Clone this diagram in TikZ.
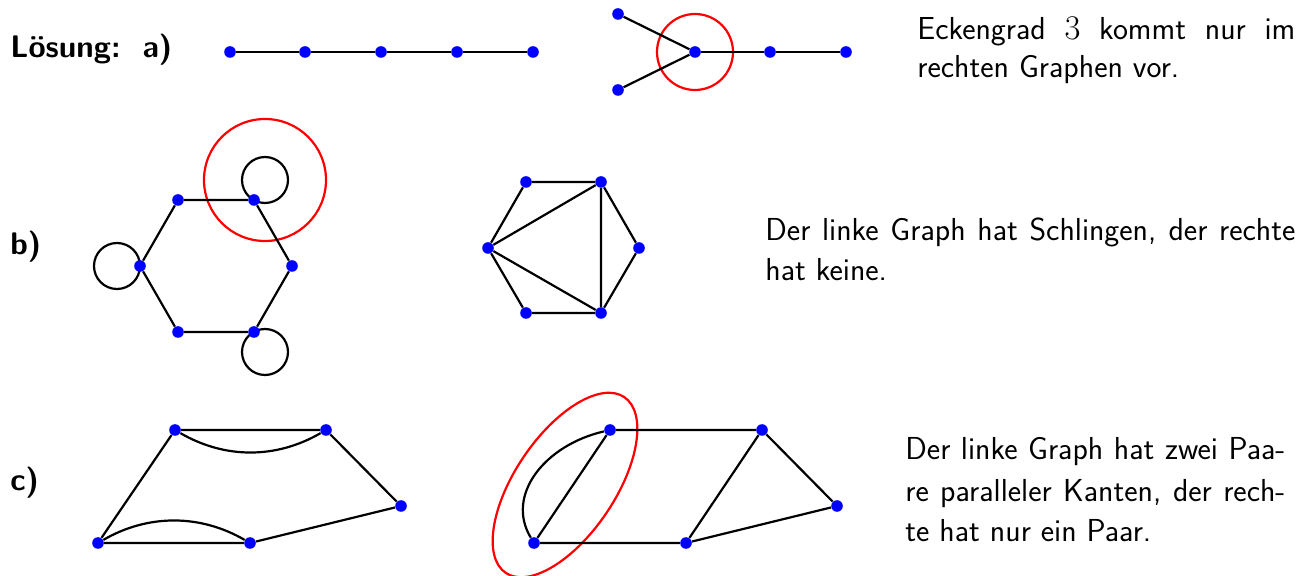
\documentclass[tikz,border=0pt]{standalone}
\usepackage{fontspec}
\usetikzlibrary{backgrounds}
\tikzset{
  dot/.style={circle,fill=blue,inner sep=0pt,minimum size=5.8pt},
  edge/.style={line width=1.1pt,black},
  redmark/.style={line width=1.1pt,red},
  txt/.style={anchor=base west,inner sep=0pt,font=\sffamily\fontsize{15.9}{20}\selectfont},
  lbl/.style={anchor=base west,inner sep=0pt,font=\sffamily\bfseries\fontsize{15.6}{20}\selectfont}
}
\begin{document}
\begin{tikzpicture}[x=0.5pt,y=0.5pt]
\useasboundingbox (0,0) rectangle (1306,-576);
% ---------- a) ----------
\node[lbl] (la) at (10,-58) {Lösung:\hspace{11pt}a)};
\foreach \i/\x in {1/230,2/305,3/381,4/457,5/533} \node[dot] (a\i) at (\x,-52) {};
\node[dot] (ac) at (695,-52) {};
\node[dot] (al1) at (618,-14) {};
\node[dot] (al2) at (618,-90) {};
\node[dot] (ar1) at (770,-52) {};
\node[dot] (ar2) at (846,-52) {};
\draw[edge] (a1) -- (a2) -- (a3) -- (a4) -- (a5);
\draw[edge] (al1) -- (ac) -- (al2);
\draw[edge] (ac) -- (ar1) -- (ar2);
\node[txt] (ta1) at (917,-40) {\makebox[189pt][s]{Eckengrad $3$ kommt nur im}};
\node[txt] (ta2) at (917,-78) {rechten Graphen vor.};
% ---------- b) ----------
\node[lbl] (lb) at (10,-255) {b)};
\node[dot] (h1) at (178,-200) {};
\node[dot] (h2) at (254,-200) {};
\node[dot] (h3) at (292,-266) {};
\node[dot] (h4) at (254,-332) {};
\node[dot] (h5) at (178,-332) {};
\node[dot] (h6) at (140,-266) {};
\draw[edge] (h1) -- (h2) -- (h3) -- (h4) -- (h5) -- (h6) -- (h1);
\node[dot] (k1) at (526,-182) {};
\node[dot] (k2) at (601,-182) {};
\node[dot] (k3) at (639,-248) {};
\node[dot] (k4) at (601,-313) {};
\node[dot] (k5) at (526,-313) {};
\node[dot] (k6) at (488,-248) {};
\draw[edge] (k1) -- (k2) -- (k3) -- (k4) -- (k5) -- (k6) -- (k1);
\draw[edge] (k6) -- (k2) -- (k4) -- (k6);
\node[txt] (tb1) at (765,-241) {\makebox[265pt][s]{Der linke Graph hat Schlingen, der rechte}};
\node[txt] (tb2) at (765,-281) {hat keine.};
% ---------- c) ----------
\node[lbl] (lc) at (10,-491) {c)};
\node[dot] (p1) at (175,-430) {};
\node[dot] (p2) at (326,-430) {};
\node[dot] (p3) at (401,-506) {};
\node[dot] (p4) at (250,-543) {};
\node[dot] (p5) at (98,-543) {};
\draw[edge] (p1) -- (p2) -- (p3) -- (p4) -- (p5) -- (p1);
\draw[edge] (p1) .. controls +(50,-29) and +(-50,-29) .. (p2);
\draw[edge] (p5) .. controls +(50,29) and +(-50,29) .. (p4);
\node[dot] (q1) at (610,-430) {};
\node[dot] (q2) at (762,-430) {};
\node[dot] (q3) at (837,-506) {};
\node[dot] (q4) at (686,-543) {};
\node[dot] (q5) at (534,-543) {};
\draw[edge] (q1) -- (q2) -- (q3) -- (q4) -- (q5) -- (q1);
\draw[edge] (q2) -- (q4);
\draw[edge] (q5) .. controls +(-29,48) and +(-65,-15) .. (q1);
\node[txt] (tc1) at (905,-460) {\makebox[190pt][s]{Der linke Graph hat zwei Paa-}};
\node[txt] (tc2) at (905,-502) {\makebox[190pt][s]{re paralleler Kanten, der rech-}};
\node[txt] (tc3) at (905,-542) {te hat nur ein Paar.};
% ---------- loops and highlights (behind the dots) ----------
\begin{scope}[on background layer]
\draw[redmark] (ac) circle[radius=38];
\draw[edge] (h6) ++(-23,0) circle[radius=23];
\draw[edge] (h2) ++(11,20) circle[radius=23];
\draw[edge] (h4) ++(11,-20) circle[radius=23];
\draw[redmark] (h2) ++(11,20) circle[radius=61];
\draw[redmark,rotate around={56:(565,-485)}] (565,-485) ellipse[x radius=106,y radius=50];
\end{scope}
\end{tikzpicture}
\end{document}
